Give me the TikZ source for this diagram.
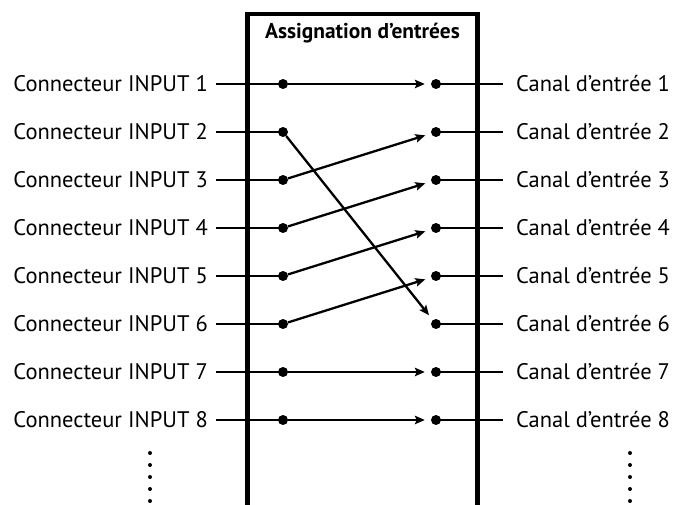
\documentclass[tikz,border=0pt]{standalone}
\usepackage{fontspec}
\setmainfont{PT Sans}
\usetikzlibrary{arrows.meta}
\begin{document}
\begin{tikzpicture}[x=1pt,y=1pt,
  lbl/.style={inner sep=0pt,font=\fontsize{22.5}{26}\selectfont},
  wire/.style={line width=2.3pt},
  arr/.style={line width=2.3pt,-{Stealth[length=10pt,width=8.5pt,inset=2pt]},shorten >=6pt},
  pin/.style={circle,fill=black,inner sep=0pt,minimum size=10pt},
  vdot/.style={circle,fill=black,inner sep=0pt,minimum size=4pt}]
\useasboundingbox (0,0) rectangle (675,505);
% box
\draw[line width=4.5pt,miter limit=10] (247.5,0) -- (247.5,491) -- (477.5,491) -- (477.5,0);
\node[font=\bfseries\fontsize{21.4}{25}\selectfont] (ttl) at (362.5,472) {Assignation d’entrées};
\foreach \i in {1,...,8}{
  \pgfmathsetmacro{\yy}{505-84-48*(\i-1)}
  \node[lbl,anchor=east] (L\i) at (208,\yy) {Connecteur INPUT \i};
  \node[lbl,anchor=west] (R\i) at (516,\yy) {Canal d’entrée \i};
  \node[pin] (a\i) at (283,\yy) {};
  \node[pin] (b\i) at (436,\yy) {};
  \coordinate (ls\i) at (216,\yy);
  \coordinate (re\i) at (503,\yy);
  \draw[wire] (ls\i) -- (a\i.center);
  \draw[wire] (b\i.center) -- (re\i);
}
\draw[arr] (a1) -- (b1);
\draw[arr] (a2) -- (b6);
\draw[arr] (a3) -- (b2);
\draw[arr] (a4) -- (b3);
\draw[arr] (a5) -- (b4);
\draw[arr] (a6) -- (b5);
\draw[arr] (a7) -- (b7);
\draw[arr] (a8) -- (b8);
\foreach \k in {0,...,4}{
  \node[vdot] (dl\k) at (150,52-12*\k) {};
  \node[vdot] (dr\k) at (630,52-12*\k) {};
}
\end{tikzpicture}
\end{document}
